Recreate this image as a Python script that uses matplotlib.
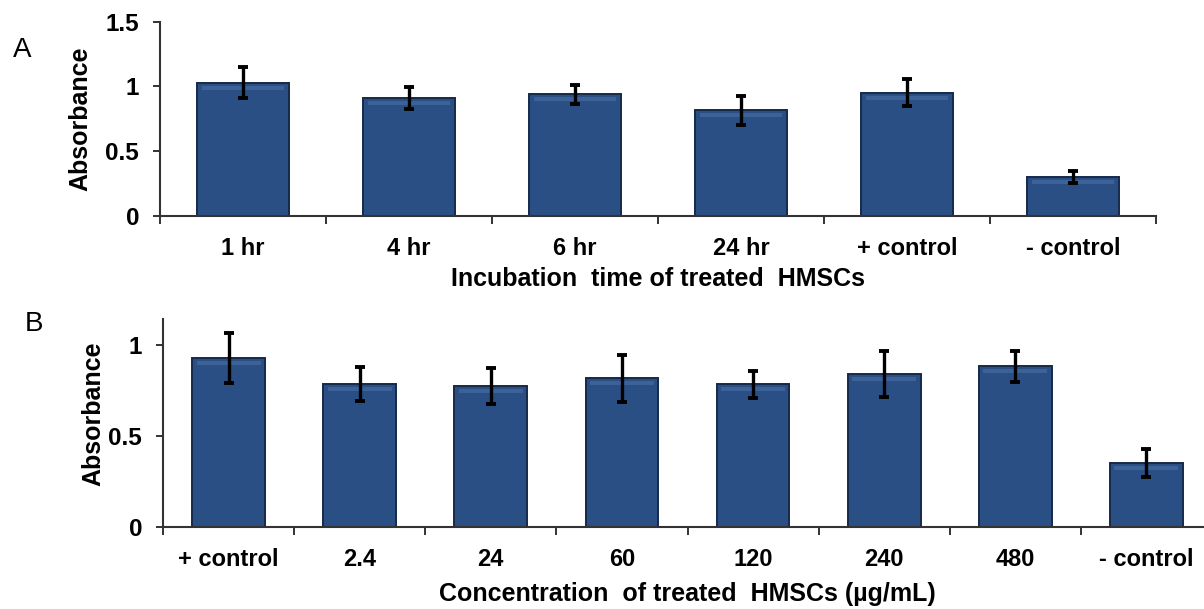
import matplotlib
matplotlib.use("Agg")
import matplotlib.pyplot as plt
import numpy as np

# ---- data ----
cats_a = ["1 hr", "4 hr", "6 hr", "24 hr", "+ control", "- control"]
vals_a = [1.03, 0.91, 0.94, 0.815, 0.952, 0.303]
errs_a = [0.12, 0.085, 0.075, 0.11, 0.103, 0.048]

cats_b = ["+ control", "2.4", "24", "60", "120", "240", "480", "- control"]
vals_b = [0.927, 0.785, 0.774, 0.815, 0.784, 0.839, 0.881, 0.349]
errs_b = [0.137, 0.095, 0.10, 0.127, 0.074, 0.127, 0.087, 0.078]

yticks_a = [0, 0.5, 1, 1.5]
yticks_b = [0, 0.5, 1]

plt.rcParams['font.family'] = ['Liberation Sans', 'DejaVu Sans']

W, H = 1204, 609
fig = plt.figure(figsize=(W / 100, H / 100), dpi=100)

BAR = '#2A4F84'
EDGE = '#16294A'
HILITE = '#5A80B8'
AXC = '#333333'


def px(x0, y0, x1, y1):
    return [x0 / W, 1 - y1 / H, (x1 - x0) / W, (y1 - y0) / H]


def panel(rect, cats, vals, errs, yticks, ymax, xlabel, ylab_xy, xlabelpad):
    ax = fig.add_axes(rect)
    n = len(cats)
    x = np.arange(n)
    bw = 0.555
    ax.bar(x, vals, width=bw, color=BAR, edgecolor=EDGE, linewidth=1.4, zorder=2)
    # soft bevel highlight near top of each bar
    ax_h_px = rect[3] * H
    unit = ymax / ax_h_px
    v = np.array(vals)
    ax.bar(x, np.full(n, 4.0 * unit), bottom=v - 7.0 * unit, width=bw * 0.88,
           color=HILITE, linewidth=0, zorder=3, alpha=0.4)
    ax.errorbar(x, vals, yerr=errs, fmt='none', ecolor='black', elinewidth=2.4,
                capsize=3.5, capthick=2.8, zorder=4)
    ax.set_xlim(-0.5, n - 0.5)
    ax.set_ylim(0, ymax)
    for s in ['top', 'right']:
        ax.spines[s].set_visible(False)
    for s in ['left', 'bottom']:
        ax.spines[s].set_color(AXC)
        ax.spines[s].set_linewidth(1.5)
    ax.set_yticks(yticks)
    ax.set_yticklabels([('%g' % t) for t in yticks], fontsize=17.5, fontweight='bold')
    ax.tick_params(axis='y', direction='out', length=5, width=1.4, color=AXC, pad=10)
    ax.set_xticks(x)
    ax.set_xticklabels(cats, fontsize=17, fontweight='bold')
    ax.tick_params(axis='x', which='major', length=0, pad=15)
    ax.set_xticks(np.arange(n + 1) - 0.5, minor=True)
    ax.tick_params(axis='x', which='minor', direction='out', length=6, width=1.4, color=AXC)
    ax.set_xlabel(xlabel, fontsize=18, fontweight='bold', labelpad=xlabelpad)
    ax.set_ylabel('Absorbance', fontsize=18, fontweight='bold')
    ax.yaxis.set_label_coords(*ylab_xy)
    return ax


axA = panel(px(160, 21.7, 1156, 216), cats_a, vals_a, errs_a, yticks_a, 1.5,
            'Incubation  time of treated  HMSCs', (-0.068, 0.5), 5.0)
axB = panel(px(163, 319.3, 1212, 526.7), cats_b, vals_b, errs_b, yticks_b, 1.14,
            'Concentration  of treated  HMSCs (\u00b5g/mL)', (-0.055, 0.545), 8.0)

fig.text(22 / W, 1 - 50 / H, 'A', fontsize=20, ha='center', va='center')
fig.text(34 / W, 1 - 324 / H, 'B', fontsize=20, ha='center', va='center')

fig.savefig('out.png', dpi=100)
